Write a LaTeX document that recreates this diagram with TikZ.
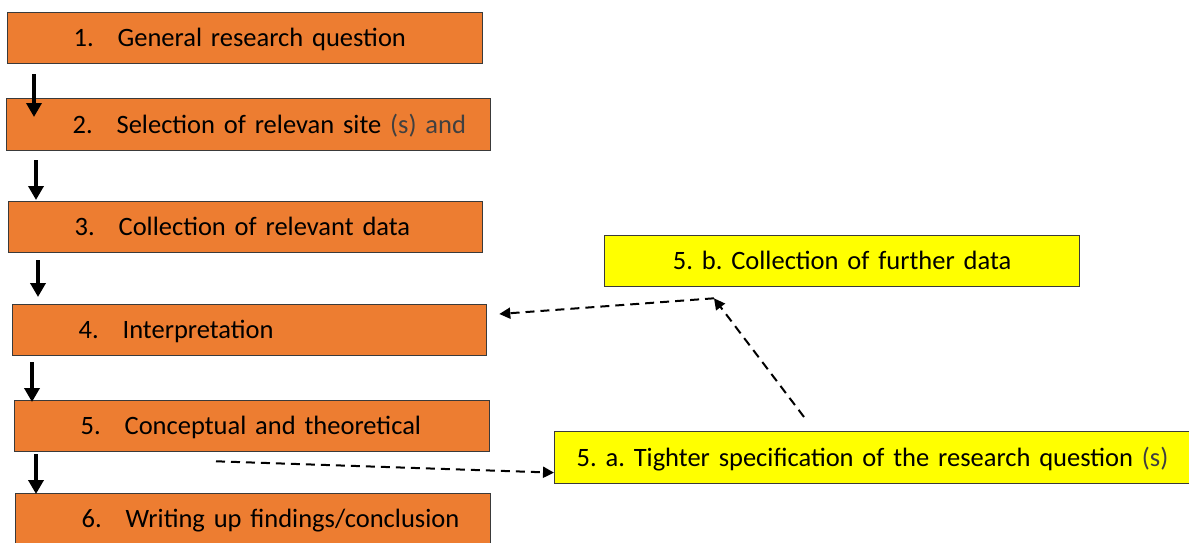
\documentclass[tikz,border=0pt]{standalone}
\usepackage{fontspec}
\setmainfont{Carlito}
\frenchspacing
\usetikzlibrary{arrows.meta, positioning, calc}
\definecolor{stageOrange}{HTML}{ED7D31}
\definecolor{noteYellow}{HTML}{FFFF00}
\definecolor{edgeGrey}{HTML}{3A3A3A}
\tikzset{
    stage/.style={rectangle, draw=edgeGrey, line width=1.3pt, fill=stageOrange,
        anchor=north west, inner xsep=0pt, inner ysep=0pt, minimum height=51pt,
        text height=22pt, text depth=5pt,
        text width=#1, align=left, font=\fontsize{26.5}{30}\selectfont},
    stage/.default=475pt,
    note/.style={stage=#1, fill=noteYellow},
    note/.default=475pt,
    flow/.style={-{Triangle[length=14pt,width=15pt]}, line width=4pt},
    loopback/.style={-{Triangle[length=11pt,width=11pt]}, line width=2pt,
        dash pattern=on 9pt off 6pt}
}
\newcommand{\StageText}[2]{\hspace*{66pt}\makebox[44pt][l]{#1}#2}

\begin{document}
\begin{tikzpicture}[x=1pt, y=-1pt]
    \useasboundingbox (0,0) rectangle (1189,543);

    % Main steps
    \node[stage] (s1) at (7,12) {\StageText{1.}{General research question}};
    \node[stage=484pt, minimum height=52pt] (s2) at (6,98)
        {\StageText{2.}{Selection of relevan site {\color{black!75}(s) and}}};
    \node[stage=474pt] (s3) at (8,201) {\StageText{3.}{Collection of relevant data}};
    \node[stage=474pt] (s4) at (12,304) {\StageText{4.}{Interpretation}};
    \node[stage] (s5) at (14,400) {\StageText{5.}{Conceptual and theoretical}};
    \node[stage] (s6) at (15,493) {\StageText{6.}{Writing up findings/conclusion}};

    % Side notes
    \node[note, align=center] (nb) at (604,235) {5. b. Collection of further data};
    \node[note=650pt, minimum height=52pt] (na) at (554,431)
        {\hspace*{22pt}5. a. Tighter specification of the research question {\color{black!75}(s)}};

    % Down arrows
    \foreach \a/\b/\dx/\gap/\dip in {s1/s2/27/10/19, s2/s3/30/9/-1, s3/s4/30/7/-7,
                                     s4/s5/20/6/2, s5/s6/22/2/1} {
        \draw[flow] ([xshift=\dx pt, yshift=-\gap pt]\a.south west) coordinate (t)
            -- ([yshift=-\dip pt]t |- \b.north);
    }

    % Dashed loop
    \coordinate (bend) at ([xshift=110pt, yshift=-11pt]nb.south west);
    \draw[loopback] ([xshift=202pt, yshift=-9pt]s5.south west) -- ([yshift=-15pt]na.west);
    \draw[loopback] ([xshift=250pt, yshift=14pt]na.north west) -- (bend);
    \draw[loopback] (bend) -- ([xshift=12pt, yshift=-10pt]s4.north east);

\end{tikzpicture}
\end{document}
